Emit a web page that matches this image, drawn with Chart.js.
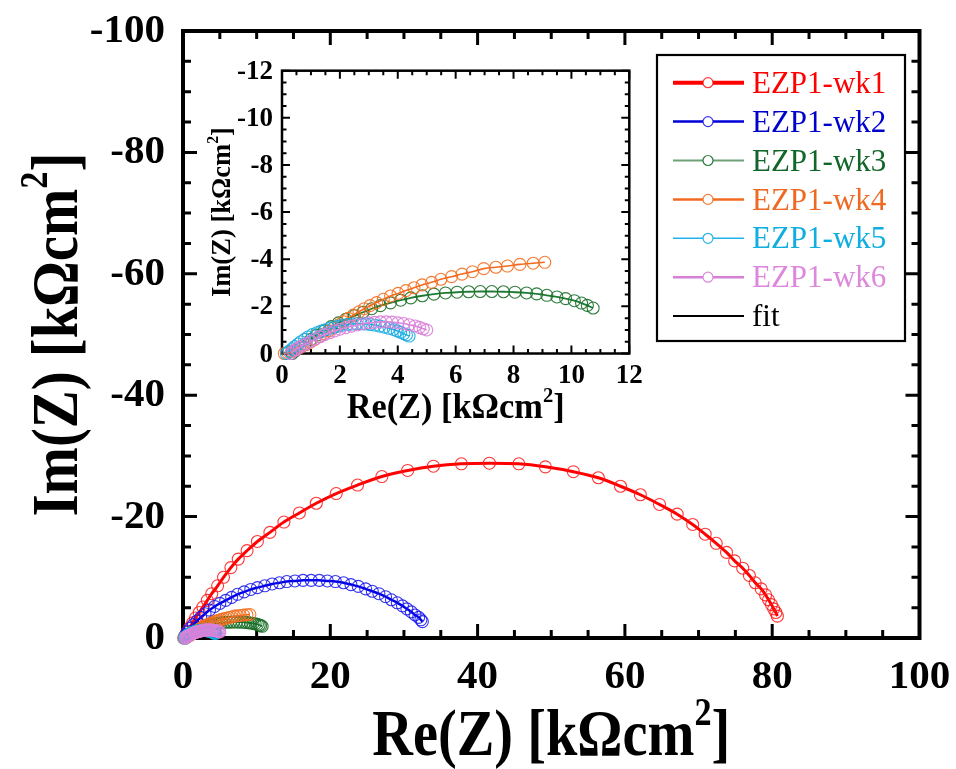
<!DOCTYPE html>
<html>
<head>
<meta charset="utf-8">
<script src="https://cdn.jsdelivr.net/npm/chart.js@4.4.1/dist/chart.umd.min.js"></script>
<style>
html, body { margin: 0; padding: 0; background: #ffffff; }
#wrap { position: relative; width: 956px; height: 769px; overflow: hidden; }
#wrap canvas { position: absolute; }
</style>
</head>
<body>
<div id="wrap">
  <canvas id="main" width="956" height="769" style="left:0;top:0"></canvas>
  <canvas id="inset" width="460" height="400" style="left:190px;top:40px"></canvas>
</div>
<script>
// Nyquist data, [Re(Z), Im(Z)] in kOhm cm^2, from high to low frequency
const seriesNames = ['EZP1-wk1', 'EZP1-wk2', 'EZP1-wk3', 'EZP1-wk4', 'EZP1-wk5', 'EZP1-wk6'];
const fitName = 'fit';

const wk1 = [[0.2,-0.2],[0.5,-0.9],[0.9,-1.7],[1.3,-2.5],[1.7,-3.3],[2.2,-4.2],[2.7,-5.1],[3.3,-6.2],[3.9,-7.3],
  [4.7,-8.6],[5.5,-10.0],[6.5,-11.6],[7.5,-13.0],[8.7,-14.4],[10.1,-15.9],[11.8,-17.4],[13.7,-19.1],[15.8,-20.6],
  [18.1,-22.2],[20.8,-23.8],[23.7,-25.2],[27.0,-26.6],[30.5,-27.6],[34.0,-28.3],[37.8,-28.7],[41.6,-28.8],
  [45.6,-28.7],[49.2,-28.2],[53.0,-27.4],[56.4,-26.4],[59.4,-25.0],[62.1,-23.6],[64.7,-22.0],[67.1,-20.4],
  [69.2,-18.7],[70.9,-17.1],[72.4,-15.6],[73.8,-14.1],[74.9,-12.7],[76.0,-11.5],[76.9,-10.3],[77.7,-9.1],
  [78.5,-8.1],[79.1,-7.1],[79.5,-6.3],[79.9,-5.5],[80.2,-4.8],[80.5,-4.2],[80.7,-3.6]];

const wk2 = [[0.2,-0.2],[0.4,-0.6],[0.7,-1.1],[1.0,-1.6],[1.4,-2.2],[1.9,-2.8],[2.4,-3.4],[3.0,-4.0],[3.6,-4.6],
  [4.3,-5.2],[5.0,-5.7],[5.8,-6.2],[6.6,-6.7],[7.4,-7.2],[8.3,-7.6],[9.2,-8.0],[10.1,-8.3],[11.1,-8.6],[12.1,-8.9],
  [13.1,-9.1],[14.1,-9.3],[15.2,-9.4],[16.3,-9.5],[17.4,-9.5],[18.5,-9.5],[19.6,-9.4],[20.7,-9.3],[21.8,-9.1],
  [22.8,-8.8],[23.8,-8.5],[24.8,-8.1],[25.7,-7.7],[26.6,-7.3],[27.5,-6.8],[28.3,-6.3],[29.1,-5.8],[29.8,-5.3],
  [30.4,-4.8],[31.0,-4.3],[31.5,-3.8],[32.0,-3.4],[32.3,-3.0],[32.5,-2.7]];

const wk3 = [[0.35,0],[0.45,-0.1],[0.6,-0.25],[0.8,-0.4],[1.0,-0.6],[1.2,-0.78],[1.45,-0.96],[1.7,-1.14],
  [1.95,-1.3],[2.2,-1.45],[2.5,-1.6],[2.8,-1.75],[3.1,-1.9],[3.4,-2.03],[3.75,-2.15],[4.1,-2.26],[4.45,-2.36],
  [4.85,-2.45],[5.25,-2.52],[5.65,-2.57],[6.05,-2.6],[6.45,-2.62],[6.85,-2.63],[7.25,-2.63],[7.65,-2.62],
  [8.05,-2.6],[8.45,-2.57],[8.8,-2.53],[9.15,-2.47],[9.5,-2.4],[9.8,-2.33],[10.1,-2.24],[10.35,-2.14],
  [10.55,-2.04],[10.75,-1.93]];

const wk4 = [[0.08,0],[0.2,-0.04],[0.35,-0.1],[0.5,-0.18],[0.66,-0.27],[0.82,-0.37],[0.98,-0.48],[1.14,-0.6],
  [1.3,-0.72],[1.46,-0.84],[1.62,-0.96],[1.78,-1.08],[1.94,-1.21],[2.12,-1.35],[2.29,-1.49],[2.46,-1.63],
  [2.66,-1.77],[2.84,-1.9],[3.04,-2.03],[3.27,-2.16],[3.5,-2.3],[3.75,-2.44],[4.01,-2.55],[4.28,-2.67],
  [4.56,-2.79],[4.84,-2.91],[5.17,-3.02],[5.49,-3.15],[5.86,-3.26],[6.22,-3.37],[6.58,-3.47],[6.97,-3.6],
  [7.39,-3.66],[7.79,-3.71],[8.22,-3.78],[8.68,-3.83],[9.08,-3.87]];

const wk5 = [[0.15,0],[0.25,-0.1],[0.35,-0.2],[0.45,-0.3],[0.55,-0.4],[0.65,-0.5],[0.78,-0.6],[0.9,-0.7],
  [1.05,-0.8],[1.2,-0.88],[1.35,-0.95],[1.5,-1.01],[1.65,-1.07],[1.8,-1.12],[1.95,-1.16],[2.1,-1.2],
  [2.26,-1.23],[2.42,-1.25],[2.58,-1.26],[2.74,-1.26],[2.9,-1.25],[3.06,-1.23],[3.22,-1.2],[3.38,-1.16],
  [3.54,-1.12],[3.7,-1.07],[3.85,-1.02],[3.98,-0.96],[4.1,-0.9],[4.21,-0.84],[4.3,-0.79],[4.39,-0.74]];

const wk6 = [[0.3,0],[0.4,-0.1],[0.5,-0.18],[0.6,-0.26],[0.72,-0.34],[0.85,-0.42],[1.0,-0.52],[1.15,-0.62],
  [1.3,-0.71],[1.47,-0.8],[1.64,-0.88],[1.82,-0.96],[2.0,-1.03],[2.2,-1.1],[2.4,-1.16],[2.6,-1.21],[2.8,-1.26],
  [3.0,-1.3],[3.2,-1.32],[3.4,-1.34],[3.6,-1.34],[3.8,-1.33],[4.0,-1.3],[4.2,-1.27],[4.4,-1.22],[4.6,-1.17],
  [4.75,-1.11],[4.88,-1.05],[5.0,-1.0]];

const seriesData = [wk1, wk2, wk3, wk4, wk5, wk6];

// Main axes: Re 0..100, Im 0..-100 (negative up)
const mainXTicks = [0, 20, 40, 60, 80, 100];
const mainYTicks = [-100, -80, -60, -40, -20, 0];
// Inset axes: Re 0..12, Im 0..-12
const insetXTicks = [0, 2, 4, 6, 8, 10, 12];
const insetYTicks = [-12, -10, -8, -6, -4, -2, 0];

// Axis titles: main text, superscript, closing bracket
const xTitleParts = ['Re(Z) [kΩcm', '2', ']'];
const yTitleParts = ['Im(Z) [kΩcm', '2', ']'];

const lineColors   = ['#ff0000', '#0000e6', '#1f7a34', '#f26a1f', '#14aee6', '#dc86dc'];
const markerColors = ['rgba(255,20,20,0.85)', 'rgba(20,20,235,0.85)', 'rgba(25,110,40,0.9)',
                      'rgba(242,110,30,0.9)', 'rgba(20,170,225,0.9)', 'rgba(218,130,218,0.95)'];
const textColors   = ['#ff0000', '#0000cc', '#11662a', '#ee6a22', '#10aee0', '#dd88dd'];
const legendLineColors = ['#ff0000', '#0000d8', '#6fa077', '#f26a1f', '#20b4ea', '#d57fd5'];
const legendLineWidths = [4, 2.5, 2, 2.5, 1.5, 2.5];
const plotLineWidths = [3, 2.5, 1.8, 1.6, 1.4, 1.6];

const serif = "'Liberation Serif', 'Times New Roman', serif";

function makeDataset(i, radius) {
  return {
    label: seriesNames[i],
    data: seriesData[i],
    showLine: true,
    tension: 0.3,
    borderColor: lineColors[i],
    borderWidth: plotLineWidths[i],
    backgroundColor: 'rgba(0,0,0,0)',
    pointStyle: 'circle',
    pointRadius: radius,
    pointBorderWidth: 1.1,
    pointBorderColor: markerColors[i],
    pointBackgroundColor: 'rgba(0,0,0,0)',
    clip: false,
    order: 6 - i
  };
}

// Box frame with inward major/minor ticks on all four sides
const framePlugin = {
  id: 'frameTicks',
  beforeDatasetsDraw(chart, args, o) {
    const { ctx, chartArea: a } = chart;
    const xs = chart.scales.x, ys = chart.scales.y;
    ctx.save();
    ctx.strokeStyle = '#000';
    ctx.lineCap = 'butt';
    ctx.lineWidth = o.tickWidth;
    const isMajor = (v, step) => Math.abs(v / step - Math.round(v / step)) < 1e-6;
    const nx = Math.round((xs.max - xs.min) / o.minorX);
    for (let k = 0; k <= nx; k++) {
      const v = xs.min + k * o.minorX;
      const px = xs.getPixelForValue(v);
      const len = isMajor(v, o.majorX) ? o.majorLen : o.minorLen;
      ctx.beginPath();
      ctx.moveTo(px, a.bottom); ctx.lineTo(px, a.bottom - len);
      ctx.moveTo(px, a.top); ctx.lineTo(px, a.top + len);
      ctx.stroke();
    }
    const ny = Math.round((ys.max - ys.min) / o.minorY);
    for (let k = 0; k <= ny; k++) {
      const v = ys.min + k * o.minorY;
      const py = ys.getPixelForValue(v);
      const len = isMajor(v, o.majorY) ? o.majorLen : o.minorLen;
      ctx.beginPath();
      ctx.moveTo(a.left, py); ctx.lineTo(a.left + len, py);
      ctx.moveTo(a.right, py); ctx.lineTo(a.right - len, py);
      ctx.stroke();
    }
    ctx.lineWidth = o.lineWidth;
    ctx.strokeRect(a.left, a.top, a.right - a.left, a.bottom - a.top);
    ctx.restore();
  }
};

// Draws a title with a superscript, centred on (0,0) in the current transform
function drawTitle(ctx, parts, size, width) {
  const big = 'bold ' + size + 'px ' + serif;
  const small = 'bold ' + Math.round(size * 0.6) + 'px ' + serif;
  ctx.font = big;  const w0 = ctx.measureText(parts[0]).width;
  ctx.font = small; const w1 = ctx.measureText(parts[1]).width;
  ctx.font = big;  const w2 = ctx.measureText(parts[2]).width;
  const total = w0 + w1 + w2;
  const sx = width ? width / total : 1;
  ctx.scale(sx, 1);
  let pos = -total / 2;
  ctx.textAlign = 'left';
  ctx.textBaseline = 'alphabetic';
  ctx.font = big;   ctx.fillText(parts[0], pos, 0); pos += w0;
  ctx.font = small; ctx.fillText(parts[1], pos, -size * 0.45); pos += w1;
  ctx.font = big;   ctx.fillText(parts[2], pos, 0);
}

// Tick labels and axis titles placed from the chart's own scales
const axisTextPlugin = {
  id: 'axisText',
  afterDraw(chart, args, o) {
    const { ctx, chartArea: a } = chart;
    const xs = chart.scales.x, ys = chart.scales.y;
    ctx.save();
    ctx.fillStyle = '#000';
    ctx.font = 'bold ' + o.tickSize + 'px ' + serif;
    ctx.textBaseline = 'alphabetic';
    ctx.textAlign = 'center';
    xs.ticks.forEach(t => {
      ctx.fillText(String(t.value), xs.getPixelForValue(t.value), a.bottom + o.xTickBase);
    });
    ctx.textAlign = 'right';
    ys.ticks.forEach(t => {
      ctx.fillText(String(t.value), a.left - o.yTickGap, ys.getPixelForValue(t.value) + o.tickSize * o.yTickShift);
    });
    ctx.restore();

    ctx.save();
    ctx.fillStyle = '#000';
    ctx.translate((a.left + a.right) / 2, o.xTitleBase);
    drawTitle(ctx, xTitleParts, o.xTitleSize, o.xTitleWidth);
    ctx.restore();

    ctx.save();
    ctx.fillStyle = '#000';
    ctx.translate(o.yTitleBase, (a.top + a.bottom) / 2);
    ctx.rotate(-Math.PI / 2);
    drawTitle(ctx, yTitleParts, o.yTitleSize, o.yTitleWidth);
    ctx.restore();
  }
};

// Boxed legend drawn inside the plot area
const boxLegendPlugin = {
  id: 'boxLegend',
  afterDraw(chart, args, o) {
    if (!o.show) return;
    const ctx = chart.ctx;
    ctx.save();
    ctx.lineWidth = o.borderWidth;
    ctx.strokeStyle = '#000';
    ctx.strokeRect(o.left, o.top, o.width, o.height);
    const items = seriesNames.map((name, i) => ({
      label: name, line: legendLineColors[i], lw: legendLineWidths[i],
      marker: markerColors[i], text: textColors[i]
    }));
    items.push({ label: fitName, line: '#000', lw: 2, marker: null, text: '#000' });
    ctx.font = o.font;
    ctx.textBaseline = 'middle';
    ctx.textAlign = 'left';
    items.forEach((it, i) => {
      const cy = o.firstRow + i * o.rowGap;
      ctx.strokeStyle = it.line;
      ctx.lineWidth = it.lw;
      ctx.beginPath();
      ctx.moveTo(o.lineX0, cy); ctx.lineTo(o.lineX1, cy);
      ctx.stroke();
      if (it.marker) {
        ctx.beginPath();
        ctx.arc(o.markerX, cy, o.markerR, 0, Math.PI * 2);
        ctx.fillStyle = '#fff';
        ctx.fill();
        ctx.lineWidth = 1.2;
        ctx.strokeStyle = it.marker;
        ctx.stroke();
      }
      ctx.fillStyle = it.text;
      ctx.fillText(it.label, o.textX, cy + 2);
    });
    ctx.restore();
  }
};

Chart.register(framePlugin, axisTextPlugin, boxLegendPlugin);

function axisOptions(cfg) {
  return {
    x: {
      type: 'linear', min: cfg.xTicks[0], max: cfg.xTicks[cfg.xTicks.length - 1],
      grid: { display: false }, border: { display: false },
      afterBuildTicks: s => { s.ticks = cfg.xTicks.map(v => ({ value: v })); },
      afterFit: s => { s.height = cfg.xHeight; },
      ticks: { display: false }, title: { display: false }
    },
    y: {
      type: 'linear', reverse: true, min: cfg.yTicks[0], max: cfg.yTicks[cfg.yTicks.length - 1],
      grid: { display: false }, border: { display: false },
      afterBuildTicks: s => { s.ticks = cfg.yTicks.map(v => ({ value: v })); },
      afterFit: s => { s.width = cfg.yWidth; },
      ticks: { display: false }, title: { display: false }
    }
  };
}

new Chart(document.getElementById('main'), {
  type: 'scatter',
  data: { datasets: [0, 1, 2, 3, 4, 5].map(i => makeDataset(i, 6)) },
  options: {
    responsive: false, animation: false, devicePixelRatio: 1,
    layout: { padding: { left: 0, top: 31, right: 36.5, bottom: 0 } },
    scales: axisOptions({ xTicks: mainXTicks, yTicks: mainYTicks, xHeight: 131, yWidth: 183 }),
    plugins: {
      legend: { display: false }, tooltip: { enabled: false },
      frameTicks: { lineWidth: 4, tickWidth: 3, majorLen: 14, minorLen: 8,
                    majorX: 20, minorX: 5, majorY: 20, minorY: 5 },
      axisText: { tickSize: 41, xTickBase: 50, yTickGap: 18, yTickShift: 0.27,
                  xTitleSize: 66, xTitleWidth: 358, xTitleBase: 755,
                  yTitleSize: 66, yTitleWidth: 364, yTitleBase: 77 },
      boxLegend: { show: true, left: 657, top: 55, width: 248, height: 286, borderWidth: 2.2,
                   firstRow: 82.7, rowGap: 38.9, lineX0: 673, lineX1: 744, markerX: 708, markerR: 5,
                   textX: 752, font: "31px " + serif }
    }
  }
});

new Chart(document.getElementById('inset'), {
  type: 'scatter',
  data: { datasets: [2, 3, 4, 5].map(i => makeDataset(i, 6)) },
  options: {
    responsive: false, animation: false, devicePixelRatio: 1,
    layout: { padding: { left: 0, top: 30.7, right: 20.7, bottom: 0 } },
    scales: axisOptions({ xTicks: insetXTicks, yTicks: insetYTicks, xHeight: 86.5, yWidth: 92 }),
    plugins: {
      legend: { display: false }, tooltip: { enabled: false },
      frameTicks: { lineWidth: 2.5, tickWidth: 2, majorLen: 8, minorLen: 4.5,
                    majorX: 2, minorX: 0.5, majorY: 2, minorY: 0.5 },
      axisText: { tickSize: 27, xTickBase: 29, yTickGap: 9, yTickShift: 0.3,
                  xTitleSize: 35, xTitleWidth: 218, xTitleBase: 378,
                  yTitleSize: 27, yTitleWidth: 170, yTitleBase: 40 },
      boxLegend: { show: false }
    }
  }
});
</script>
</body>
</html>
